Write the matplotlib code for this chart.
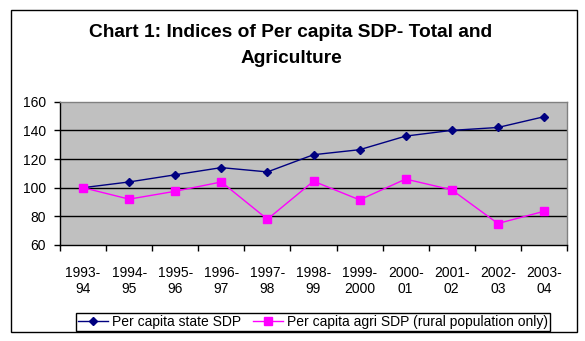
import matplotlib
matplotlib.use("Agg")
import matplotlib.pyplot as plt
from matplotlib.patches import Rectangle
from matplotlib.ticker import FixedLocator

plt.rcParams['font.family'] = ['Liberation Sans', 'DejaVu Sans']

years = ["1993-\n94", "1994-\n95", "1995-\n96", "1996-\n97", "1997-\n98",
         "1998-\n99", "1999-\n2000", "2000-\n01", "2001-\n02", "2002-\n03",
         "2003-\n04"]
state_sdp = [100, 104, 109, 114, 111, 123, 126.5, 136, 140, 142, 149.5]
agri_sdp = [100, 92, 97.5, 104, 78, 104.5, 91.5, 106, 98.5, 75, 83.5]
title_lines = ["Chart 1: Indices of Per capita SDP- Total and", "Agriculture"]

W, H = 585, 341
fig = plt.figure(figsize=(W / 100, H / 100), dpi=100)
fig.patch.set_facecolor('white')

ax = fig.add_axes([60 / W, 1 - 245 / H, (567 - 60) / W, (245 - 101.7) / H])
ax.set_facecolor('#C0C0C0')

x = list(range(len(years)))
ax.plot(x, state_sdp, color='#000080', lw=1.0, marker='D', ms=4,
        markerfacecolor='#000080', markeredgecolor='#000080',
        label='Per capita state SDP', zorder=3)
ax.plot(x, agri_sdp, color='#FF00FF', lw=1.0, marker='s', ms=5.5,
        markerfacecolor='#FF00FF', markeredgecolor='#FF00FF',
        label='Per capita agri SDP (rural population only)', zorder=3)

ax.set_xlim(-0.5, len(years) - 0.5)
ax.set_ylim(60, 160)
ax.set_yticks(range(60, 161, 20))
for yv in range(80, 160, 20):
    ax.axhline(yv, color='black', lw=1.0, zorder=1)

ax.set_xticks(x)
ax.set_xticklabels(years, fontsize=10, linespacing=1.2)
ax.xaxis.set_minor_locator(FixedLocator([i - 0.5 for i in range(len(years) + 1)]))
ax.tick_params(axis='x', which='major', length=0, pad=15)
ax.tick_params(axis='x', which='minor', length=4, width=1, direction='out', color='black')
ax.tick_params(axis='y', length=4, width=1, direction='out', pad=6, labelsize=10)

for side in ('top', 'right'):
    ax.spines[side].set_color('#808080')
    ax.spines[side].set_linewidth(1)
for side in ('left', 'bottom'):
    ax.spines[side].set_color('black')
    ax.spines[side].set_linewidth(1)

for line, yc in zip(title_lines, (32.5, 58.5)):
    fig.text(291 / W, 1 - yc / H, line, ha='center', va='center',
             fontsize=13.8, fontweight='bold')

leg = fig.legend(loc='center', bbox_to_anchor=(313 / W, 1 - 322 / H), ncol=2,
                 fontsize=10, frameon=True, fancybox=False, framealpha=1,
                 edgecolor='black', handlelength=2.2, handletextpad=0.3,
                 columnspacing=0.8, borderpad=0.15, borderaxespad=0)
leg.get_frame().set_linewidth(1)

fig.add_artist(Rectangle((11 / W, 1 - 332 / H), (577 - 11) / W, (332 - 10) / H,
                         transform=fig.transFigure, fill=False,
                         edgecolor='black', lw=1))

fig.savefig('out.png', dpi=100)
